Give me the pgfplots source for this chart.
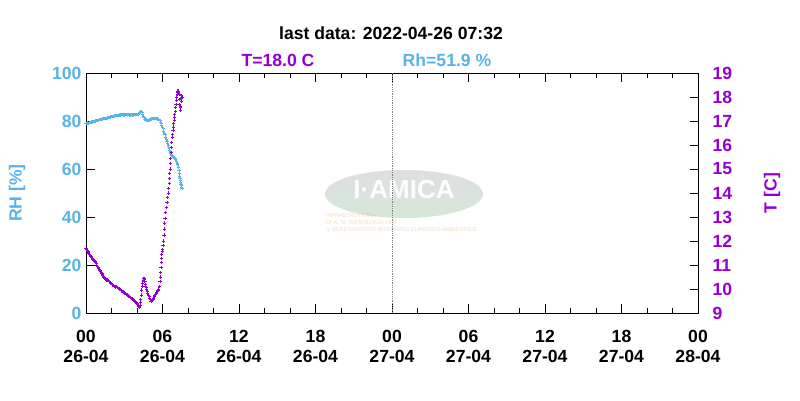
\documentclass[border=0pt]{standalone}
\usepackage{pgfplots}
\pgfplotsset{compat=1.18}
\usepackage{fontspec}
\setmainfont{Liberation Sans}
\definecolor{rhblue}{RGB}{86,180,233}
\definecolor{tviolet}{RGB}{148,0,211}
\newcommand{\bigf}{\bfseries\fontsize{17.6}{20}\selectfont}
\begin{document}
\begin{tikzpicture}[x=1pt,y=1pt]
\useasboundingbox (0,0) rectangle (800,400);
% faint logo watermark
\begin{scope}[opacity=0.10]
\fill[top color=blue!30!gray!60!white, bottom color=green!70!white] (404,206) ellipse (79 and 24);
\end{scope}
\node[text=white, opacity=0.95, font=\bfseries\fontsize{26}{28}\selectfont] at (404,210) {I·AMICA};
\node[anchor=west, text=orange!60!gray, opacity=0.3, font=\fontsize{5.5}{7}\selectfont, align=left, inner sep=0pt] at (326,177) {INFRASTRUTTURA\\DI ALTA TECNOLOGIA PER\\IL MONITORAGGIO INTEGRATO CLIMATICO-AMBIENTALE};
% texts
\node[font=\bigf] at (391,367) {last data: 2022-04-26 07:32};
\node[font=\bigf, text=tviolet] at (278,340) {T=18.0 C};
\node[font=\bigf, text=rhblue] at (447,340) {Rh=51.9 \%};
\node[font=\bigf, text=rhblue, rotate=90] at (17,207) {RH [\%]};
\node[font=\bigf, text=tviolet, rotate=90] at (772,207) {T [C]};
\begin{axis}[
  at={(86pt,87pt)}, anchor=south west,
  scale only axis, width=612pt, height=240pt,
  xmin=0, xmax=48, ymin=0, ymax=100,
  axis line style={line width=1pt},
  xtick={0,6,...,48},
  xticklabels={00\\26-04,06\\26-04,12\\26-04,18\\26-04,00\\27-04,06\\27-04,12\\27-04,18\\27-04,00\\28-04},
  minor x tick num=2,
  xtick pos=both,
  ytick={0,20,...,100},
  ytick pos=left,
  tick align=inside,
  major tick length=9pt, minor tick length=5pt,
  every tick/.style={black, line width=1pt},
  /pgf/number format/assume math mode=true,
  xticklabel style={font=\bigf, align=center, text=black, yshift=-14pt},
  yticklabel style={font=\bigf, text=rhblue, xshift=-1pt},
  clip=false,
]
\addplot[gray, densely dotted, line width=0.8pt] coordinates {(24,0) (24,100)};
\addplot[only marks, mark=+, mark size=1.6pt, color=rhblue, line width=0.9pt] coordinates {
(0.0,79.0)(0.08,78.9)(0.15,79.2)(0.22,79.1)(0.3,79.4)(0.38,79.5)(0.45,79.6)(0.52,79.6)(0.6,79.8)(0.68,79.9)(0.75,80.0)(0.82,80.1)(0.9,80.2)(0.98,80.3)(1.05,80.5)(1.12,80.6)(1.2,80.7)(1.28,80.8)(1.35,80.9)(1.42,81.0)(1.5,81.0)(1.58,81.1)(1.65,81.2)(1.72,81.4)(1.8,81.5)(1.88,81.7)(1.95,81.8)(2.02,81.9)(2.1,82.0)(2.18,82.0)(2.25,82.1)(2.32,82.2)(2.4,82.2)(2.48,82.3)(2.55,82.4)(2.62,82.5)(2.7,82.5)(2.78,82.6)(2.85,82.6)(2.92,82.5)(3.0,82.5)(3.08,82.6)(3.15,82.6)(3.22,82.6)(3.3,82.6)(3.38,82.5)(3.45,82.5)(3.52,82.6)(3.6,82.6)(3.68,82.5)(3.75,82.5)(3.82,82.6)(3.9,82.6)(3.98,82.6)(4.05,82.7)(4.12,82.9)(4.2,83.3)(4.25,83.7)(4.3,84.0)(4.35,83.8)(4.4,83.4)(4.45,82.8)(4.5,82.0)(4.55,81.3)(4.6,80.8)(4.68,80.6)(4.75,80.4)(4.82,80.3)(4.9,80.3)(4.98,80.4)(5.05,80.6)(5.12,80.8)(5.2,81.0)(5.28,81.1)(5.35,81.2)(5.42,81.0)(5.5,80.9)(5.58,80.8)(5.65,80.7)(5.72,80.5)(5.8,80.2)(5.85,79.6)(5.9,79.0)(5.95,78.3)(6.0,77.5)(6.05,76.7)(6.1,75.8)(6.15,75.0)(6.2,74.2)(6.25,73.3)(6.3,72.5)(6.35,71.6)(6.4,70.8)(6.45,69.8)(6.5,68.8)(6.55,67.9)(6.6,67.0)(6.65,66.3)(6.7,65.8)(6.75,65.5)(6.8,65.2)(6.85,65.0)(6.9,64.8)(6.95,64.6)(7.0,64.3)(7.05,63.8)(7.1,63.2)(7.15,62.5)(7.2,61.8)(7.25,60.8)(7.3,59.5)(7.33,58.2)(7.35,57.0)(7.38,56.0)(7.4,55.3)(7.43,54.4)(7.45,53.6)(7.48,53.0)(7.5,52.5)(7.53,51.9)
};
\end{axis}
\begin{axis}[
  at={(86pt,87pt)}, anchor=south west,
  scale only axis, width=612pt, height=240pt,
  xmin=0, xmax=48, ymin=9, ymax=19,
  axis x line=none,
  axis y line*=right,
  axis line style={line width=1pt, -},
  ytick={9,10,...,19},
  xtick=\empty,
  tick align=inside,
  major tick length=8pt,
  every tick/.style={black, line width=1pt},
  /pgf/number format/assume math mode=true,
  yticklabel style={font=\bigf, text=tviolet, anchor=west, xshift=11pt},
  clip=false,
]
\addplot[only marks, mark=+, mark size=1.6pt, color=tviolet, line width=0.9pt] coordinates {
(0.0,11.70)(0.05,11.65)(0.1,11.60)(0.15,11.55)(0.2,11.50)(0.25,11.46)(0.3,11.42)(0.35,11.38)(0.4,11.35)(0.45,11.30)(0.5,11.28)(0.55,11.24)(0.6,11.20)(0.65,11.17)(0.7,11.14)(0.75,11.10)(0.8,11.05)(0.85,11.00)(0.9,10.95)(0.95,10.90)(1.0,10.85)(1.05,10.82)(1.1,10.78)(1.15,10.73)(1.2,10.68)(1.25,10.63)(1.3,10.58)(1.35,10.54)(1.4,10.50)(1.45,10.46)(1.5,10.42)(1.55,10.38)(1.6,10.35)(1.65,10.38)(1.7,10.40)(1.75,10.34)(1.8,10.30)(1.85,10.30)(1.9,10.28)(1.95,10.25)(2.0,10.22)(2.05,10.20)(2.1,10.18)(2.15,10.15)(2.2,10.12)(2.25,10.10)(2.3,10.08)(2.35,10.12)(2.4,10.10)(2.45,10.07)(2.5,10.05)(2.55,10.02)(2.6,10.00)(2.65,9.99)(2.7,9.98)(2.75,9.95)(2.8,9.92)(2.85,9.90)(2.9,9.88)(2.95,9.86)(3.0,9.85)(3.05,9.82)(3.1,9.80)(3.15,9.78)(3.2,9.76)(3.25,9.75)(3.3,9.74)(3.35,9.70)(3.4,9.68)(3.45,9.66)(3.5,9.64)(3.55,9.62)(3.6,9.60)(3.65,9.58)(3.7,9.56)(3.75,9.54)(3.8,9.52)(3.85,9.49)(3.9,9.46)(3.95,9.43)(4.0,9.40)(4.05,9.36)(4.1,9.32)(4.15,9.27)(4.2,9.22)(4.25,9.30)(4.28,9.42)(4.3,9.55)(4.34,9.75)(4.38,9.96)(4.42,10.12)(4.45,10.25)(4.48,10.35)(4.52,10.45)(4.55,10.43)(4.58,10.38)(4.62,10.30)(4.65,10.20)(4.68,10.12)(4.72,10.05)(4.76,9.98)(4.8,9.90)(4.85,9.82)(4.9,9.75)(4.95,9.68)(5.0,9.60)(5.05,9.55)(5.1,9.50)(5.15,9.50)(5.2,9.52)(5.25,9.57)(5.3,9.62)(5.35,9.67)(5.4,9.72)(5.45,9.77)(5.5,9.82)(5.55,9.86)(5.6,9.90)(5.65,9.95)(5.7,10.00)(5.75,10.12)(5.8,10.30)(5.83,10.50)(5.85,10.70)(5.88,10.90)(5.9,11.10)(5.93,11.28)(5.95,11.45)(5.98,11.55)(6.0,11.65)(6.04,11.82)(6.08,12.00)(6.12,12.25)(6.15,12.50)(6.18,12.75)(6.2,12.95)(6.25,13.18)(6.3,13.40)(6.35,13.60)(6.4,13.80)(6.44,14.00)(6.48,14.20)(6.52,14.40)(6.55,14.60)(6.58,14.80)(6.6,15.00)(6.63,15.22)(6.65,15.45)(6.68,15.68)(6.7,15.90)(6.73,16.10)(6.76,16.30)(6.79,16.45)(6.82,16.60)(6.85,16.75)(6.88,16.90)(6.91,17.02)(6.94,17.15)(6.97,17.28)(7.0,17.40)(7.03,17.55)(7.06,17.70)(7.09,17.85)(7.12,18.00)(7.15,18.12)(7.18,18.20)(7.21,18.25)(7.24,18.25)(7.27,18.18)(7.3,18.10)(7.33,17.90)(7.36,17.70)(7.39,17.55)(7.42,17.45)(7.44,17.60)(7.46,17.80)(7.48,17.92)(7.5,18.05)(7.53,18.00)
};
\end{axis}
\end{tikzpicture}
\end{document}
